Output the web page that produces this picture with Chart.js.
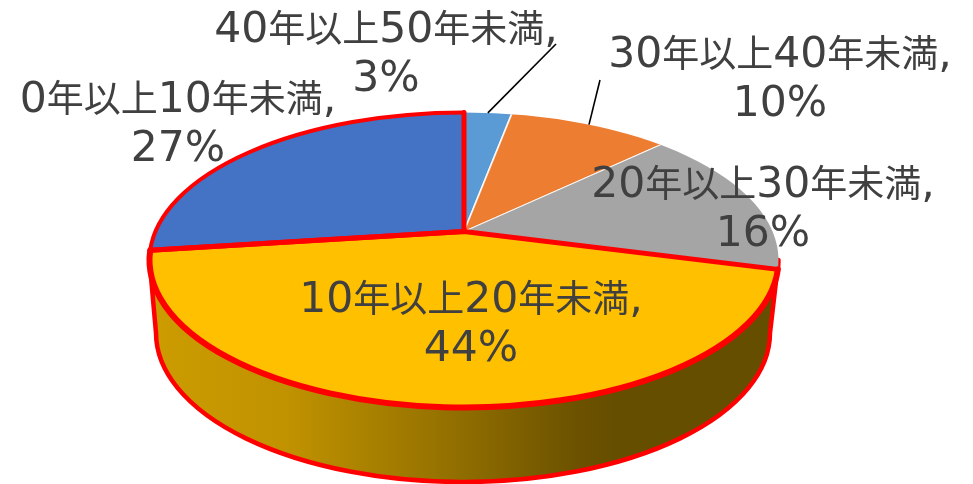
<!DOCTYPE html>
<html lang="ja">
<head>
<meta charset="utf-8">
<title>年数別構成比</title>
<script src="https://cdn.jsdelivr.net/npm/chart.js@4/dist/chart.umd.min.js"></script>
<style>
  html, body { margin: 0; padding: 0; background: #fff; }
  canvas { display: block; }
</style>
</head>
<body>
<canvas id="pie" width="973" height="484"></canvas>
<script>
// Share of each age band, clockwise from twelve o'clock
const categories = ['40年以上50年未満', '30年以上40年未満', '20年以上30年未満', '10年以上20年未満', '0年以上10年未満'];
const shares = [3, 10, 16, 44, 27];
const sliceColors = ['#5B9BD5', '#ED7D31', '#A5A5A5', '#FFC000', '#4472C4'];

// Slices pulled out with a red outline
const outlined = [3, 4];

// Tilted-disc projection: slices fan out from the apex, trimmed by the rim ellipse
const apex = { x: 464, y: 231.5 };
const tilt = 0.47;
const zoom = 2;
const rim = { x: 464, y: 260, rx: 314.5, ry: 147.5 };
const base = { x: 463, y: 333, rx: 307, ry: 149 };

// Label anchors (centre x, first baseline y) and where their leader lines stop
const labelAnchors = [[386, 42], [780, 67], [763, 197], [471, 312], [178, 112]];
const leaderEnds = { 0: [556, 44], 1: [600, 80] };
const lineGap = 48.7;
const latinFont = '42.5px "DejaVu Sans", sans-serif';
const kanjiFont = '37px "Noto Sans CJK JP", sans-serif';

function rayToRim(angle) {
  const dx = Math.cos(angle), dy = Math.sin(angle) * tilt;
  const ox = apex.x - rim.x, oy = apex.y - rim.y;
  const a = dx * dx / (rim.rx * rim.rx) + dy * dy / (rim.ry * rim.ry);
  const b = 2 * (ox * dx / (rim.rx * rim.rx) + oy * dy / (rim.ry * rim.ry));
  const c = ox * ox / (rim.rx * rim.rx) + oy * oy / (rim.ry * rim.ry) - 1;
  const t = (-b + Math.sqrt(b * b - 4 * a * c)) / (2 * a);
  return { x: apex.x + t * dx, y: apex.y + t * dy };
}

function rimParam(p) {
  return Math.atan2((p.y - rim.y) / rim.ry, (p.x - rim.x) / rim.rx);
}

function drawWall(ctx) {
  const g = ctx.createLinearGradient(150, 0, 778, 0);
  g.addColorStop(0, '#CC9C00');
  g.addColorStop(0.22, '#C09200');
  g.addColorStop(0.45, '#987400');
  g.addColorStop(0.68, '#6C5200');
  g.addColorStop(0.74, '#664E00');
  g.addColorStop(1, '#664E00');
  ctx.beginPath();
  ctx.ellipse(rim.x, rim.y, rim.rx, rim.ry, 0, 0, Math.PI, false);
  ctx.lineTo(base.x - base.rx, base.y);
  ctx.ellipse(base.x, base.y, base.rx, base.ry, 0, Math.PI, 0, true);
  ctx.closePath();
  ctx.fillStyle = g;
  ctx.fill();
  ctx.strokeStyle = '#FF0000';
  ctx.lineWidth = 4.5;
  ctx.lineJoin = 'round';
  ctx.stroke();
}

function drawOutlines(chart, ctx) {
  const arcs = chart.getDatasetMeta(0).data;
  ctx.strokeStyle = '#FF0000';
  ctx.lineJoin = 'round';
  ctx.lineCap = 'round';
  outlined.forEach(i => {
    const p0 = rayToRim(arcs[i].startAngle), p1 = rayToRim(arcs[i].endAngle);
    ctx.lineWidth = i === 3 ? 6 : 4;
    ctx.beginPath();
    ctx.ellipse(rim.x, rim.y, rim.rx, rim.ry, 0, rimParam(p0), rimParam(p1), false);
    ctx.stroke();
    ctx.lineWidth = 5;
    ctx.beginPath();
    ctx.moveTo(p0.x, p0.y);
    ctx.lineTo(apex.x, apex.y);
    ctx.lineTo(p1.x, p1.y);
    ctx.stroke();
  });
}

// Digits and punctuation use a wider face than the kanji, so each line is set run by run
function fillMixed(ctx, text, cx, y) {
  const runs = text.match(/[0-9,%]+|[^0-9,%]+/g).map(str => {
    const font = /[0-9,%]/.test(str[0]) ? latinFont : kanjiFont;
    ctx.font = font;
    return { str, font, w: ctx.measureText(str).width };
  });
  let x = cx - runs.reduce((sum, r) => sum + r.w, 0) / 2;
  runs.forEach(r => {
    ctx.font = r.font;
    ctx.fillText(r.str, x, y);
    x += r.w;
  });
}

function drawLabels(chart, ctx) {
  const arcs = chart.getDatasetMeta(0).data;
  ctx.strokeStyle = '#000';
  ctx.lineWidth = 1.6;
  ctx.lineCap = 'butt';
  Object.keys(leaderEnds).forEach(i => {
    const p = rayToRim((arcs[i].startAngle + arcs[i].endAngle) / 2);
    ctx.beginPath();
    ctx.moveTo(p.x, p.y);
    ctx.lineTo(leaderEnds[i][0], leaderEnds[i][1]);
    ctx.stroke();
  });
  ctx.fillStyle = '#404040';
  ctx.textAlign = 'left';
  ctx.textBaseline = 'alphabetic';
  categories.forEach((name, i) => {
    const [x, y] = labelAnchors[i];
    fillMixed(ctx, name + ',', x, y);
    fillMixed(ctx, shares[i] + '%', x, y + lineGap);
  });
}

const tiltedDisc = {
  id: 'tiltedDisc',
  beforeDatasetsDraw(chart) {
    const ctx = chart.ctx, area = chart.chartArea;
    drawWall(ctx);
    ctx.save();
    ctx.beginPath();
    ctx.ellipse(rim.x, rim.y, rim.rx, rim.ry, 0, 0, Math.PI * 2);
    ctx.clip();
    ctx.translate(apex.x, apex.y);
    ctx.scale(zoom, zoom * tilt);
    ctx.translate(-(area.left + area.right) / 2, -(area.top + area.bottom) / 2);
  },
  afterDatasetsDraw(chart) {
    const ctx = chart.ctx;
    ctx.restore();
    drawOutlines(chart, ctx);
    drawLabels(chart, ctx);
  }
};

new Chart(document.getElementById('pie'), {
  type: 'pie',
  data: {
    labels: categories,
    datasets: [{
      data: shares,
      backgroundColor: sliceColors,
      borderColor: 'rgba(255,255,255,0.85)',
      borderWidth: 0.9
    }]
  },
  options: {
    responsive: false,
    animation: false,
    layout: { padding: 0 },
    plugins: { legend: { display: false }, tooltip: { enabled: false } }
  },
  plugins: [tiltedDisc]
});
</script>
</body>
</html>
